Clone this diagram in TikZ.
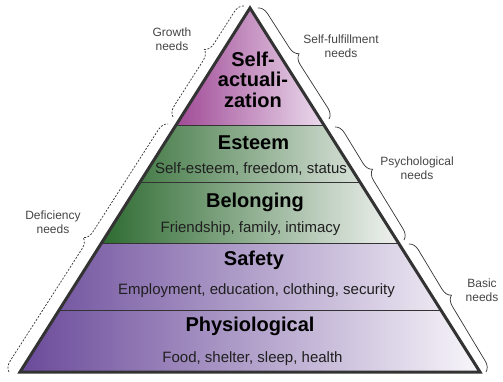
\documentclass[tikz,border=0pt]{standalone}
\usepackage{fontspec}
\setmainfont{Liberation Sans}
\usetikzlibrary{decorations.pathreplacing}
\definecolor{selfL}{HTML}{A04A96}
\definecolor{selfR}{HTML}{EBDBED}
\definecolor{grnL}{HTML}{2E6B31}
\definecolor{grnR}{HTML}{F0F2F0}
\definecolor{purL}{HTML}{6A4A9A}
\definecolor{purR}{HTML}{F8F6FA}
\definecolor{edgec}{HTML}{333333}
\definecolor{lbl}{HTML}{444444}
\begin{document}
\begin{tikzpicture}[x=1pt,y=-1pt,
  title/.style={font=\fontsize{20}{20.5}\selectfont\bfseries, text=black, anchor=base, inner sep=0pt},
  sub/.style={font=\fontsize{15}{15}\selectfont, text=black!88, anchor=base, inner sep=0pt},
  side/.style={font=\fontsize{12}{14}\selectfont, text=lbl, align=center, inner sep=0pt},
  dbrace/.style={draw=edgec, line width=0.7pt, dash pattern=on 2pt off 1.5pt, decorate, decoration={brace, amplitude=10pt, aspect=#1}},
  sbrace/.style={draw=edgec, line width=0.7pt, decorate, decoration={brace, amplitude=10pt, aspect=#1}},
  layerline/.style={draw=edgec, line width=1pt}]
\useasboundingbox (0,0) rectangle (503,381);
% corner coordinates
\coordinate (apex) at (250,8);
\coordinate (l1) at (176.1,125); \coordinate (r1) at (323.9,125);
\coordinate (l2) at (140.1,182); \coordinate (r2) at (359.9,182);
\coordinate (l3) at (101.5,243); \coordinate (r3) at (398.5,243);
\coordinate (l4) at (59.2,310);  \coordinate (r4) at (440.8,310);
\coordinate (bl) at (20,372);    \coordinate (br) at (480,372);
% layers
\shade[left color=selfL, right color=selfR] (apex) -- (l1) -- (r1) -- cycle;
\shade[left color=grnL, right color=grnR] (l1) -- (r1) -- (r3) -- (l3) -- cycle;
\shade[left color=purL, right color=purR] (l3) -- (r3) -- (br) -- (bl) -- cycle;
\draw[layerline] (l1) -- (r1);
\draw[layerline, line width=0.8pt] (l2) -- (r2);
\draw[layerline] (l3) -- (r3);
\draw[layerline, line width=0.8pt] (l4) -- (r4);
\draw[edgec, line width=3pt, line join=miter] (apex) -- (br) -- (bl) -- cycle;
% texts
\node[title, align=center, anchor=center] (selfact) at (253,79.5) {Self-\\actuali-\\zation};
\node[title] (esteem) at (253.5,149) {Esteem};
\node[sub] (esteemsub) at (251,173) {Self-esteem, freedom, status};
\node[title] (belong) at (255,207) {Belonging};
\node[sub] (belongsub) at (250.5,232) {Friendship, family, intimacy};
\node[title] (safety) at (254,265) {Safety};
\node[sub] (safetysub) at (256.5,294) {Employment, education, clothing, security};
\node[title] (phys) at (250,331) {Physiological};
\node[sub] (physsub) at (252.5,362) {Food, shelter, sleep, health};
% braces
\coordinate (g1) at (173,117); \coordinate (g2) at (244,6);
\coordinate (d1) at (9,372);   \coordinate (d2) at (168,124);
\coordinate (f1) at (258,8);   \coordinate (f2) at (329,119);
\coordinate (p1) at (335,127); \coordinate (p2) at (404,240);
\coordinate (b1) at (409,244); \coordinate (b2) at (486,372);
\draw[dbrace=0.56] (g1) -- (g2);
\draw[dbrace=0.52] (d1) -- (d2);
\draw[sbrace=0.46] (f1) -- (f2);
\draw[sbrace=0.42] (p1) -- (p2);
\draw[sbrace=0.44] (b1) -- (b2);
\node[side] (growth) at (172,39) {Growth\\needs};
\node[side] (deficiency) at (53,222) {Deficiency\\needs};
\node[side] (fulfil) at (341,46) {Self-fulfillment\\needs};
\node[side] (psych) at (417,168) {Psychological\\needs};
\node[side] (basic) at (482,290) {Basic\\needs};
\end{tikzpicture}
\end{document}
